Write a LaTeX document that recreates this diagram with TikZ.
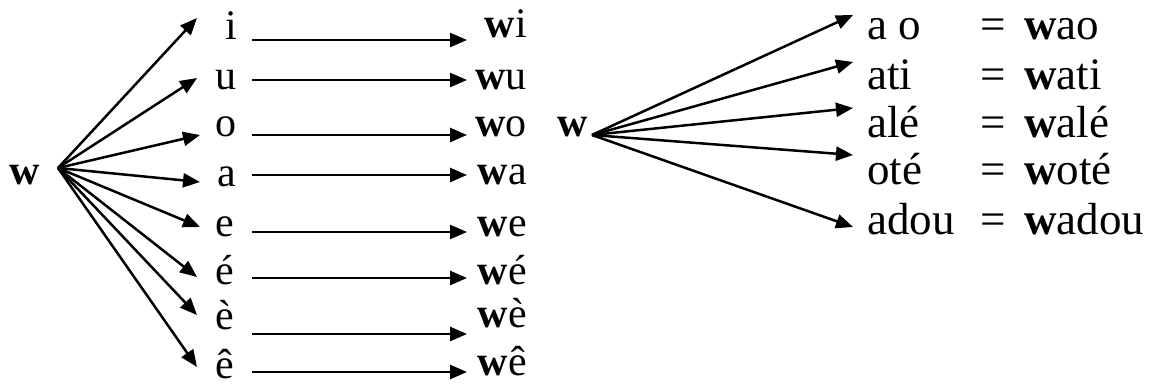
\documentclass[tikz,border=0pt]{standalone}
\usepackage{fontspec}
\setmainfont{Liberation Serif}
\usetikzlibrary{arrows.meta}
\begin{document}
\begin{tikzpicture}[x=1pt,y=-1pt,
  arr/.style={line width=2.5pt,-{Triangle[length=17pt,width=14pt]}},
  txt/.style={inner sep=0pt,anchor=base west,font=\fontsize{42}{48}\selectfont},
  txte/.style={txt,anchor=base east},
  rtxt/.style={txt,font=\fontsize{45}{52}\selectfont},
  rtxtc/.style={rtxt,anchor=base}]
\useasboundingbox (0,0) rectangle (1151,387);
% left part
\node[txt] (wL) at (9,185) {\textbf{w}};
\coordinate (oL) at (58,168);
\node[txt] (l1) at (225,40) {i};
\node[txt] (l2) at (215,90) {u};
\node[txt] (l3) at (215,137) {o};
\node[txt] (l4) at (217,187) {a};
\node[txt] (l5) at (215,237) {e};
\node[txt] (l6) at (215,285) {é};
\node[txt] (l7) at (215,330) {è};
\node[txt] (l8) at (215,378) {ê};
\node[txte] (r1) at (527,38) {\textbf{w}i};
\node[txte] (r2) at (527,90) {\textbf{w}u};
\node[txte] (r3) at (527,137) {\textbf{w}o};
\node[txte] (r4) at (527,185) {\textbf{w}a};
\node[txte] (r5) at (527,237) {\textbf{w}e};
\node[txte] (r6) at (527,285) {\textbf{w}é};
\node[txte] (r7) at (527,327) {\textbf{w}è};
\node[txte] (r8) at (527,375) {\textbf{w}ê};
\coordinate (t1) at (197,18);
\coordinate (t2) at (197,78);
\coordinate (t3) at (200,135);
\coordinate (t4) at (200,182);
\coordinate (t5) at (200,227);
\coordinate (t6) at (197,277);
\coordinate (t7) at (197,315);
\coordinate (t8) at (197,367);
\foreach \k in {1,...,8} \draw[arr] (oL) -- (t\k);
\foreach \k/\y in {1/40,2/80,3/135,4/175,5/232,6/278,7/334,8/372}{
  \coordinate (hs\k) at (252,\y);
  \coordinate (he\k) at (467,\y);
  \draw[arr] (hs\k) -- (he\k);
}
% right part
\node[txt] (wR) at (557,137) {\textbf{w}};
\coordinate (oR) at (592,135);
\coordinate (s1) at (853,15);
\coordinate (s2) at (853,62);
\coordinate (s3) at (853,108);
\coordinate (s4) at (853,155);
\coordinate (s5) at (853,227);
\foreach \k in {1,...,5} \draw[arr] (oR) -- (s\k);
\foreach \k/\y/\a/\b in {1/40/a o/ao,2/90/ati/ati,3/138/alé/alé,4/185/oté/oté,5/235/adou/adou}{
  \node[rtxt] (m\k) at (867,\y) {\a};
  \node[rtxtc] (q\k) at (993,\y) {=};
  \node[rtxt] (n\k) at (1024,\y) {\textbf{w}\b};
}
\end{tikzpicture}
\end{document}
